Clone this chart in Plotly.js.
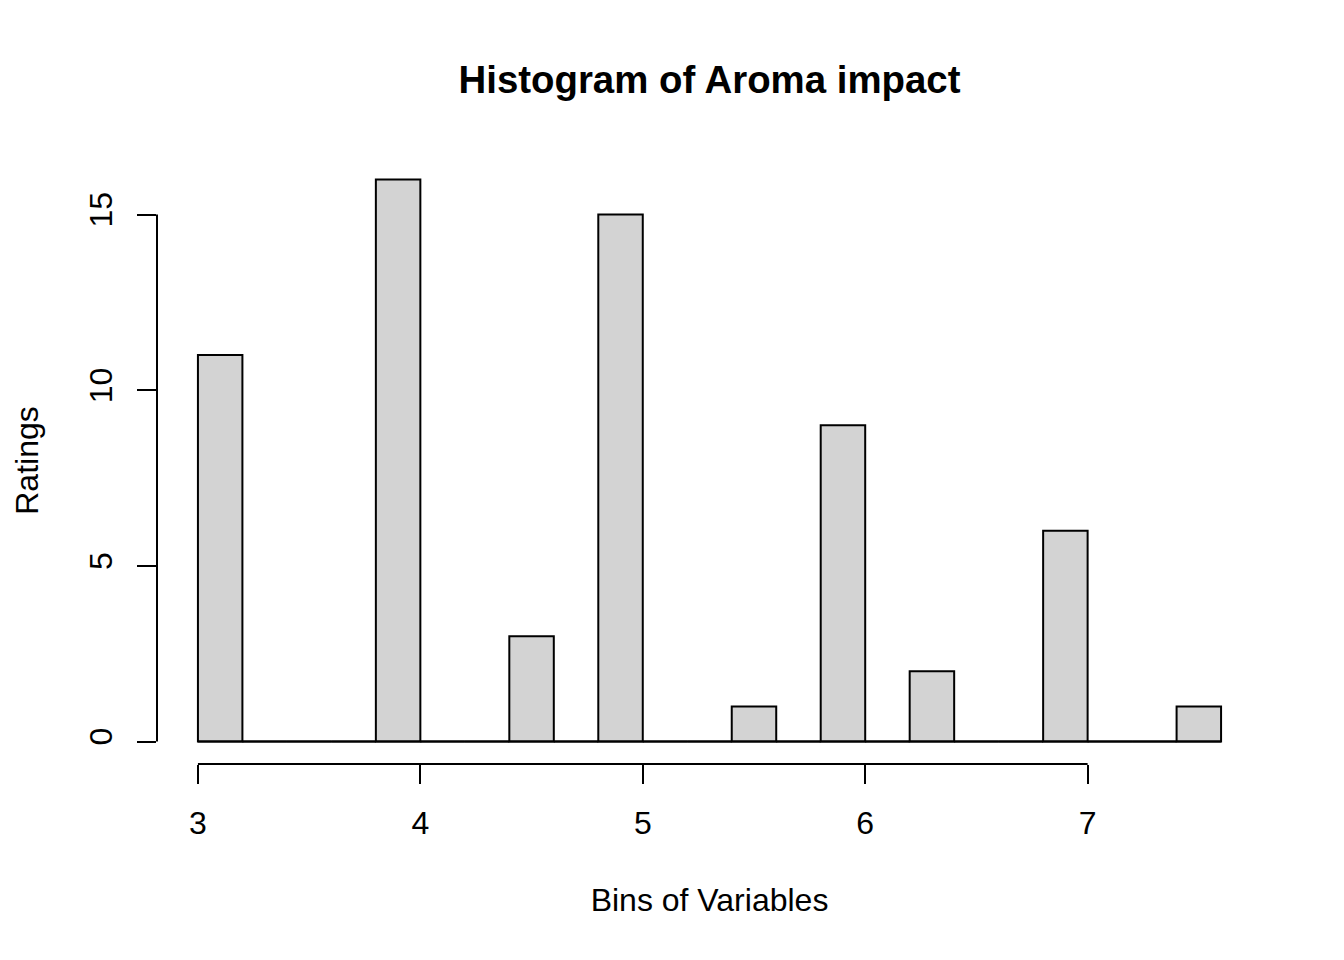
<!DOCTYPE html>
<html>
<head>
<meta charset="utf-8">
<script src="https://cdn.plot.ly/plotly-3.0.1.min.js"></script>
<style>html,body{margin:0;padding:0;background:#fff;}#chart{width:1344px;height:960px;}</style>
</head>
<body>
<div id="chart"></div>
<script>
// Histogram data (bin width 0.2)
const binStarts = [3.0, 3.2, 3.4, 3.6, 3.8, 4.0, 4.2, 4.4, 4.6, 4.8, 5.0, 5.2, 5.4, 5.6, 5.8, 6.0, 6.2, 6.4, 6.6, 6.8, 7.0, 7.2, 7.4];
const counts    = [11,  0,   0,   0,   16,  0,   0,   3,   0,   15,  0,   0,   1,   0,   9,   0,   2,   0,   0,   6,   0,   0,   1];
const binWidth = 0.2;
const xTicks = [3, 4, 5, 6, 7];
const yTicks = [0, 5, 10, 15];
const titleText = "Histogram of Aroma impact";
const xTitle = "Bins of Variables";
const yTitle = "Ratings";

const centers = binStarts.map(s => s + binWidth / 2);
const font = "Liberation Sans, Arial, sans-serif";
const fs = 32;

const xLo = binStarts[0], xHi = binStarts[binStarts.length - 1] + binWidth;
const xPad = (xHi - xLo) * 0.04;
const yMax = Math.max(...counts);
const yPad = yMax * 0.04;

const trace = {
  type: 'bar',
  x: centers,
  y: counts,
  width: binWidth,
  marker: {color: '#D3D3D3', line: {color: '#000', width: 2}},
  hoverinfo: 'x+y'
};

const shapes = [
  // baseline across all bins (zero-count bins drawn as lines)
  {type: 'line', xref: 'x', yref: 'y', x0: xLo, x1: xHi, y0: 0, y1: 0, line: {color: '#000', width: 2}, layer: 'above'},
  // x axis line (ticks span)
  {type: 'line', xref: 'x', yref: 'paper', x0: xTicks[0], x1: xTicks[xTicks.length - 1], y0: 0, y1: 0, line: {color: '#000', width: 2}},
  // y axis line (ticks span)
  {type: 'line', xref: 'paper', yref: 'y', x0: 0, x1: 0, y0: yTicks[0], y1: yTicks[yTicks.length - 1], line: {color: '#000', width: 2}}
];

const layout = {
  width: 1344, height: 960,
  margin: {l: 157, r: 82, t: 157, b: 196},
  paper_bgcolor: '#fff', plot_bgcolor: '#fff',
  showlegend: false,
  bargap: 0,
  font: {family: font, size: fs, color: '#000'},
  title: {
    text: '<b>' + titleText + '</b>',
    font: {family: font, size: 38.4, color: '#000'},
    x: 0.5, xref: 'paper', xanchor: 'center',
    y: 1 - 80 / 960, yref: 'container', yanchor: 'middle'
  },
  xaxis: {
    range: [xLo - xPad, xHi + xPad],
    tickmode: 'array', tickvals: xTicks, ticktext: xTicks.map(String),
    ticks: 'outside', ticklen: 19, tickwidth: 2, tickcolor: '#000',
    showline: false, showgrid: false, zeroline: false,
    tickfont: {family: font, size: fs, color: '#000'},
    ticklabelstandoff: 12,
    title: {text: xTitle, font: {family: font, size: fs, color: '#000'}, standoff: 48},
    fixedrange: true
  },
  yaxis: {
    range: [-yPad, yMax + yPad],
    tickmode: 'array', tickvals: yTicks, ticktext: yTicks.map(String),
    ticks: 'outside', ticklen: 19, tickwidth: 2, tickcolor: '#000',
    tickangle: -90,
    showline: false, showgrid: false, zeroline: false,
    tickfont: {family: font, size: fs, color: '#000'},
    ticklabelstandoff: 12,
    title: {text: yTitle, font: {family: font, size: fs, color: '#000'}, standoff: 35},
    fixedrange: true
  },
  shapes: shapes
};

Plotly.newPlot('chart', [trace], layout, {displayModeBar: false, staticPlot: true});
</script>
</body>
</html>
